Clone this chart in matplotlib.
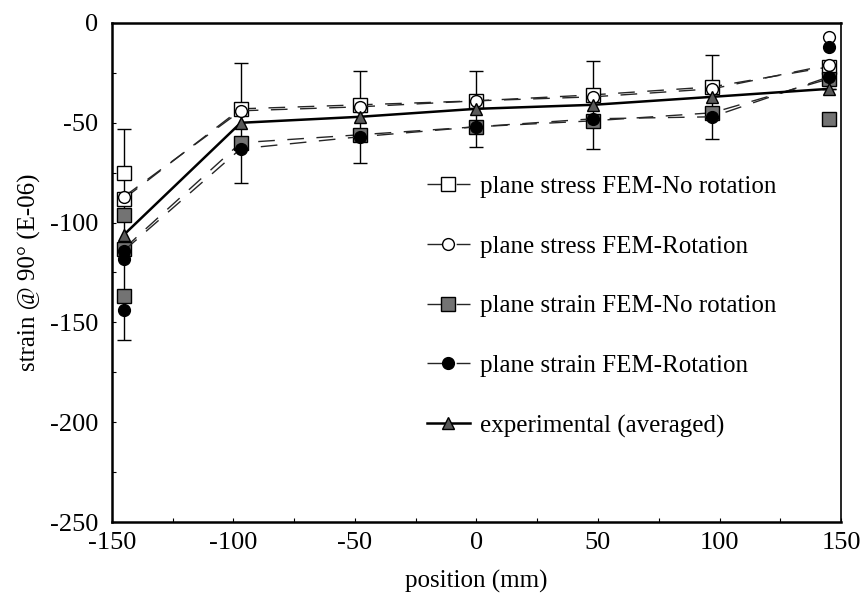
import matplotlib
matplotlib.use('Agg')
import matplotlib.pyplot as plt
from matplotlib.ticker import MultipleLocator

plt.rcParams['font.family'] = ['Liberation Serif', 'DejaVu Serif']
plt.rcParams['axes.unicode_minus'] = False

# gauge positions (mm)
positions = [-145, -97, -48, 0, 48, 97, 145]

# FEM results, connected by dashed lines
stress_norot = [-88, -43, -41, -39, -36, -32, -22]
stress_rot = [-87, -44, -42, -39, -37, -33, -21]
strain_norot = [-113, -60, -56, -52, -49, -45, -28]
strain_rot = [-114, -63, -57, -52, -48, -47, -27]

# extra end markers (not joined)
stress_norot_x = [-145]
stress_norot_y = [-75]
stress_rot_x = [145]
stress_rot_y = [-7]
strain_norot_x = [-145, -145, 145]
strain_norot_y = [-96, -137, -48]
strain_rot_x = [-145, -145, 145]
strain_rot_y = [-118, -144, -12]

# experimental average with scatter
exp_mean = [-106, -50, -47, -43, -41, -37, -33]
exp_err = [53, 30, 23, 19, 22, 21, 0]

labels = ['plane stress FEM-No rotation',
          'plane stress FEM-Rotation',
          'plane strain FEM-No rotation',
          'plane strain FEM-Rotation',
          'experimental (averaged)']

fig = plt.figure(figsize=(8.61, 6.03), dpi=100)
ax = fig.add_axes([0.130, 0.1343, 0.8468, 0.8276])

ax.errorbar(positions, exp_mean, yerr=exp_err, fmt='none', ecolor='black',
            elinewidth=1, capsize=5, capthick=1, zorder=1)

dash = (12, 9)
series = [
    (stress_norot, stress_norot_x, stress_norot_y, 's', 'white', 9.5),
    (stress_rot, stress_rot_x, stress_rot_y, 'o', 'white', 8.5),
    (strain_norot, strain_norot_x, strain_norot_y, 's', '0.45', 9.5),
    (strain_rot, strain_rot_x, strain_rot_y, 'o', 'black', 8.5),
]
handles = []
for vals, ex, ey, mk, fc, ms in series:
    h, = ax.plot(positions, vals, color='0.15', lw=1, dashes=dash,
                 marker=mk, markersize=ms, markerfacecolor=fc,
                 markeredgecolor='black', markeredgewidth=1, zorder=2)
    ax.plot(ex, ey, linestyle='none', marker=mk, markersize=ms,
            markerfacecolor=fc, markeredgecolor='black', markeredgewidth=1,
            zorder=2)
    handles.append(h)

h, = ax.plot(positions, exp_mean, color='black', lw=1.8, marker='^',
             markersize=8.5, markerfacecolor='0.35', markeredgecolor='black',
             zorder=3)
handles.append(h)

ax.set_xlim(-150, 150)
ax.set_ylim(-250, 0)
ax.xaxis.set_major_locator(MultipleLocator(50))
ax.xaxis.set_minor_locator(MultipleLocator(25))
ax.yaxis.set_major_locator(MultipleLocator(50))
ax.yaxis.set_minor_locator(MultipleLocator(25))
ax.tick_params(which='both', direction='in', length=3, width=0.8,
               labelsize=19, top=False, right=False)
ax.tick_params(axis='x', pad=7)
ax.tick_params(axis='y', pad=10)
for side in ['left', 'top', 'bottom']:
    ax.spines[side].set_linewidth(1.8)
ax.spines['right'].set_linewidth(1.2)

ax.set_xlabel('position (mm)', fontsize=18, labelpad=12)
ax.set_ylabel('strain @ 90° (E-06)', fontsize=18, labelpad=6)

fig.legend(handles, labels, loc='upper left',
           bbox_to_anchor=(0.496, 0.709), frameon=False, fontsize=18,
           handlelength=1.7, handletextpad=0.4, labelspacing=1.49,
           borderpad=0, borderaxespad=0)

fig.savefig('out.png', dpi=100)
